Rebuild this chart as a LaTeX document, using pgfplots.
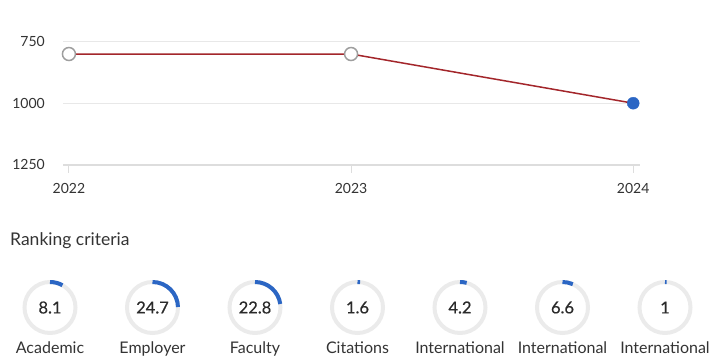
\documentclass[border=0pt]{standalone}
\usepackage{fontspec}
\setmainfont{Lato}
\newfontfamily\valfont[FakeBold=0.5]{Lato}
\usepackage{pgfplots}
\pgfplotsset{compat=1.18}
\definecolor{txt}{HTML}{333333}
\definecolor{valc}{HTML}{2A2A2A}
\definecolor{gridc}{HTML}{E8E8E8}
\definecolor{axisc}{HTML}{DDDDDD}
\definecolor{linec}{HTML}{A3262B}
\definecolor{markg}{HTML}{9E9E9E}
\definecolor{blu}{HTML}{2B66C4}
\definecolor{ring}{HTML}{EBEBEB}
\pgfdeclareplotmark{gauge}{%
  \pgfmathsetmacro\endang{90-3.6*\val}%
  \pgfsetlinewidth{4pt}%
  \pgfsetbuttcap
  \pgfsetstrokecolor{ring}%
  \pgfpathcircle{\pgfpointorigin}{25.5pt}%
  \pgfusepath{stroke}%
  \pgfsetstrokecolor{blu}%
  \pgfpathmoveto{\pgfpointpolar{90}{25.5pt}}%
  \pgfpatharc{90}{\endang}{25.5pt}%
  \pgfusepath{stroke}%
}
\begin{document}
\begin{tikzpicture}
\path[use as bounding box] (0,0) rectangle (720pt,360pt);
% ---- rank line chart
\begin{axis}[
  at={(63pt,195.3pt)}, anchor=south west,
  scale only axis, width=577pt, height=123pt,
  xmin=2021.979, xmax=2024.024,
  ymin=750, ymax=1250, y dir=reverse,
  ytick={750,1000,1250}, xtick={2022,2023,2024},
  axis x line=bottom, axis y line*=left,
  x axis line style={draw=axisc, line width=2pt, -},
  y axis line style={draw=none},
  xtick style={draw=axisc, line width=1pt},
  ytick style={draw=none},
  tick align=outside, major tick length=8pt,
  ymajorgrids, grid style={draw=gridc, line width=1pt},
  clip=false,
  /pgf/number format/assume math mode=true,
  /pgf/number format/1000 sep={},
  ticklabel style={font=\fontsize{14}{16}\selectfont, text=txt},
  yticklabel style={anchor=east, inner sep=0pt},
  xticklabel style={anchor=north, inner sep=0pt},
  yticklabel shift=10pt,
  xticklabel shift=10pt,
]
\addplot[linec, line width=1.5pt, mark=none] coordinates {(2022,800) (2023,800) (2024,1000)};
\addplot[only marks, mark=*, mark size=6.5pt, mark options={draw=markg, fill=white, line width=1.5pt}] coordinates {(2022,800) (2023,800)};
\addplot[only marks, mark=*, mark size=6pt, mark options={draw=blu, fill=blu}] coordinates {(2024,1000)};
\end{axis}
\node[anchor=base west, inner sep=0pt, text=txt, font=\fontsize{17.5}{20}\selectfont] at (10pt,114.3pt) {Ranking criteria};
% ---- gauges
\begin{axis}[
  at={(50pt,52.5pt)}, anchor=west,
  scale only axis, width=615pt, height=20pt,
  xmin=0, xmax=6, ymin=-1, ymax=1,
  axis line style={draw=none}, clip=false,
  xtick=data, ytick=\empty,
  xticklabels={Academic,Employer,Faculty,Citations,International,International,International},
  xtick style={draw=none},
  xticklabel style={anchor=base, inner sep=0pt, text=txt, font=\fontsize{16}{18}\selectfont},
  xticklabel shift=35.8pt,
]
\addplot[only marks, mark=gauge,
  point meta=explicit,
  visualization depends on={\thisrow{v} \as \val},
  nodes near coords={\pgfmathprintnumber{\pgfplotspointmeta}},
  nodes near coords align={center},
  every node near coord/.style={anchor=center, inner sep=0pt, text=valc, font=\valfont\fontsize{16.5}{18}\selectfont, /pgf/number format/assume math mode=true},
] table[x=i, y=y, meta=v] {
i y v
0 0 8.1
1 0 24.7
2 0 22.8
3 0 1.6
4 0 4.2
5 0 6.6
6 0 1
};
\end{axis}
\end{tikzpicture}
\end{document}
